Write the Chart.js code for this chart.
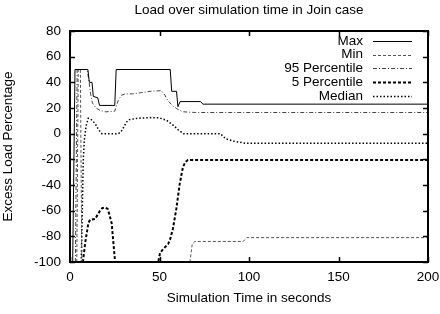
<!DOCTYPE html>
<html>
<head>
<meta charset="utf-8">
<script src="https://cdn.jsdelivr.net/npm/chart.js@4"></script>
<style>
  html, body { margin: 0; padding: 0; background: #fff; }
  #wrap { width: 440px; height: 314px; }
</style>
</head>
<body>
<div id="wrap"><canvas id="load-chart" width="440" height="314"></canvas></div>
<script>
// Values (time in seconds, excess load in %)
const maxTime = [1.5, 2.8, 10, 10.8, 12.3, 13, 15.5, 16.5, 25, 25.8, 56, 56.8, 59.5, 60.3, 61.5, 73, 74.2, 200];
const maxLoad = [-100, 50, 50, 40, 40, 29, 28, 22, 22, 50, 50, 33, 33, 21, 25, 25, 23, 23];

const minTime = [3.8, 4.6, 5.8, 6.6, 67, 68.3, 69.8, 96.8, 98.7, 200];
const minLoad = [-100, 50, 50, -100, -100, -86, -84, -84, -81, -81];

const p95Time = [3, 4, 9.5, 10.5, 11.5, 12.5, 14.5, 17, 20, 25, 26, 27, 28.8, 31, 35, 40, 44.7, 51, 53, 54.5, 56.5, 58, 59.6, 61.5, 63.5, 70, 200];
const p95Load = [-100, 50, 50, 42, 31, 24, 20, 18, 17, 17.5, 22, 26, 30, 31, 31, 32, 33, 33.5, 30, 26, 23, 21, 19.5, 18, 17, 16.5, 16.5];

const p5Time = [7.2, 8.5, 10.2, 11.2, 14, 15.5, 16.8, 18, 19.6, 21, 22, 23.3, 24.3, 25.2, 49.3, 50.3, 52, 54.8, 56, 57.5, 59.4, 61.3, 63.1, 64.5, 65.9, 200];
const p5Load = [-100, -85, -70, -67, -66.5, -63, -60, -58, -57.5, -58.5, -63, -70, -86, -100, -100, -93, -90, -86, -82, -74, -58.5, -39, -26, -22, -20.5, -20.5];

const medTime = [6.3, 7.4, 8, 9, 10.2, 11.5, 14, 16, 17.8, 27, 28.5, 30, 31.5, 33.3, 38, 44.7, 50, 54, 57.7, 60.5, 63.3, 84, 87, 92, 98, 200];
const medLoad = [-100, -21, -5, 6, 12, 11.5, 8, 3, 0, 0, 1.5, 5, 9, 11, 12, 12.5, 12.3, 10.4, 6.5, 3, 0, 0, -4, -6, -7.5, -7.5];

const xTicks = [0, 50, 100, 150, 200];
const yTicks = [-100, -80, -60, -40, -20, 0, 20, 40, 60, 80];

const FONT = 'Liberation Sans, Arial, Helvetica, sans-serif';

function points(times, loads) {
  return times.map((t, i) => ({ x: t, y: loads[i] }));
}

function series(label, times, loads, color, width, dash) {
  return {
    label: label,
    data: points(times, loads),
    borderColor: color,
    borderWidth: width,
    borderDash: dash,
    pointRadius: 0,
    fill: false,
    tension: 0
  };
}

// gnuplot style frame, inward ticks and right aligned key
const gnuplotLook = {
  id: 'gnuplotLook',
  afterDatasetsDraw(chart) {
    const ctx = chart.ctx;
    const a = chart.chartArea;
    const xs = chart.scales.x;
    const ys = chart.scales.y;
    ctx.save();
    ctx.setLineDash([]);
    ctx.strokeStyle = '#000';
    ctx.lineWidth = 1.5;
    ctx.beginPath();
    yTicks.forEach(v => {
      const py = Math.round(ys.getPixelForValue(v)) + 0.5;
      ctx.moveTo(a.left, py); ctx.lineTo(a.left + 5, py);
      ctx.moveTo(a.right, py); ctx.lineTo(a.right - 5, py);
    });
    xTicks.forEach(v => {
      const px = Math.round(xs.getPixelForValue(v)) + 0.5;
      ctx.moveTo(px, a.bottom); ctx.lineTo(px, a.bottom - 5);
      ctx.moveTo(px, a.top); ctx.lineTo(px, a.top + 5);
    });
    ctx.stroke();
    ctx.lineWidth = 2;
    ctx.strokeRect(a.left, a.top, a.right - a.left, a.bottom - a.top);

    // key
    ctx.font = '13.5px ' + FONT;
    ctx.fillStyle = '#000';
    ctx.textAlign = 'right';
    ctx.textBaseline = 'middle';
    chart.data.datasets.forEach((ds, i) => {
      const y = 41 + i * 13.7;
      ctx.fillText(ds.label, 363, y);
      ctx.strokeStyle = ds.borderColor;
      ctx.lineWidth = ds.borderWidth;
      ctx.setLineDash(ds.borderDash || []);
      ctx.beginPath();
      ctx.moveTo(373, Math.round(y) + 0.5);
      ctx.lineTo(412, Math.round(y) + 0.5);
      ctx.stroke();
    });
    ctx.restore();
  }
};

const loadChart = new Chart(document.getElementById('load-chart'), {
  type: 'line',
  data: {
    datasets: [
      series('Max', maxTime, maxLoad, '#000', 1, []),
      series('Min', minTime, minLoad, '#555', 1, [3, 2]),
      series('95 Percentile', p95Time, p95Load, '#444', 1, [4, 2, 1, 2]),
      series('5 Percentile', p5Time, p5Load, '#000', 2, [3, 2]),
      series('Median', medTime, medLoad, '#000', 1.5, [1.5, 2])
    ]
  },
  options: {
    responsive: false,
    animation: false,
    layout: { padding: { left: 0, right: 0, top: 2, bottom: 0 } },
    scales: {
      x: {
        type: 'linear',
        min: 0,
        max: 200,
        afterBuildTicks: scale => { scale.ticks = xTicks.map(v => ({ value: v })); },
        afterFit: scale => {
          scale.height = 52;
          scale.paddingLeft = 0;
          scale.paddingRight = 12;
        },
        grid: { display: false, drawTicks: false },
        border: { display: false },
        ticks: { padding: 7, color: '#000', font: { family: FONT, size: 13.5 } },
        title: {
          display: true,
          text: 'Simulation Time in seconds',
          color: '#000',
          font: { family: FONT, size: 13.5 },
          padding: { top: 0, bottom: 8 }
        }
      },
      y: {
        min: -100,
        max: 80,
        afterBuildTicks: scale => { scale.ticks = yTicks.map(v => ({ value: v })); },
        afterFit: scale => { scale.width = 70; },
        grid: { display: false, drawTicks: false },
        border: { display: false },
        ticks: { padding: 9, color: '#000', font: { family: FONT, size: 13.5 } },
        title: {
          display: true,
          text: 'Excess Load Percentage',
          color: '#000',
          font: { family: FONT, size: 13.5 },
          padding: 0
        }
      }
    },
    plugins: {
      legend: { display: false },
      tooltip: { enabled: false },
      title: {
        display: true,
        fullSize: false,
        text: 'Load over simulation time in Join case',
        color: '#000',
        font: { family: FONT, size: 13.5, weight: 'normal' },
        padding: { top: 0.4, bottom: 12.4 }
      }
    }
  },
  plugins: [gnuplotLook]
});
</script>
</body>
</html>
